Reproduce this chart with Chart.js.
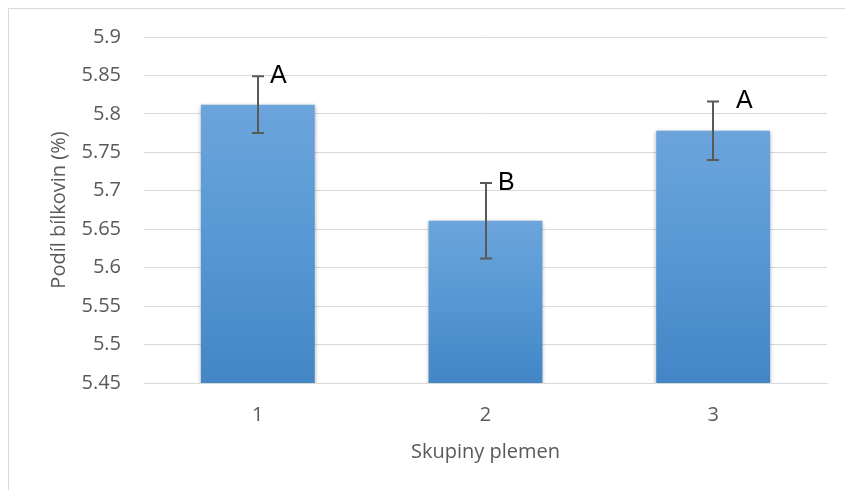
<!DOCTYPE html>
<html lang="cs">
<head>
    <meta charset="UTF-8">
    <title>Podíl bílkovin</title>
    <script src="https://cdn.jsdelivr.net/npm/chart.js"></script>
    <style>
        body {
            margin: 0;
            background: #ffffff;
        }

        .chart-container {
            width: 845px;
            height: 490px;
            position: relative;
        }
    </style>
</head>
<body>
    <div class="chart-container">
        <canvas id="proteinChart" width="845" height="490"></canvas>
    </div>

    <script>
        // data
        const groups = ['1', '2', '3'];
        const proteinMeans = [5.812, 5.661, 5.778];
        const proteinErrors = [0.037, 0.049, 0.038];
        const groupLetters = ['A', 'B', 'A'];
        const yTicks = [5.45, 5.5, 5.55, 5.6, 5.65, 5.7, 5.75, 5.8, 5.85, 5.9];
        const yTickLabels = ['5.45', '5.5', '5.55', '5.6', '5.65', '5.7', '5.75', '5.8', '5.85', '5.9'];

        const textGray = '#595959';
        const gridGray = '#d9d9d9';
        const fontFamily = "'Open Sans', sans-serif";

        // light frame like the exported Excel chart
        const framePlugin = {
            id: 'frame',
            beforeDraw(chart) {
                const ctx = chart.ctx;
                ctx.save();
                ctx.fillStyle = '#ffffff';
                ctx.fillRect(0, 0, chart.width, chart.height);
                ctx.strokeStyle = gridGray;
                ctx.lineWidth = 1;
                ctx.beginPath();
                ctx.moveTo(8.5, chart.height);
                ctx.lineTo(8.5, 8.5);
                ctx.lineTo(chart.width, 8.5);
                ctx.stroke();
                ctx.restore();
            }
        };

        const shadowPlugin = {
            id: 'barShadow',
            beforeDatasetDraw(chart) {
                const ctx = chart.ctx;
                ctx.save();
                ctx.shadowColor = 'rgba(0, 0, 0, 0.35)';
                ctx.shadowBlur = 4;
                ctx.shadowOffsetX = 0;
                ctx.shadowOffsetY = 1;
            },
            afterDatasetDraw(chart) {
                chart.ctx.restore();
            }
        };

        // error bars and group letters
        const errorBarPlugin = {
            id: 'errorBars',
            afterDatasetsDraw(chart, args, opts) {
                const ctx = chart.ctx;
                const x = chart.scales.x;
                const y = chart.scales.y;
                ctx.save();
                ctx.strokeStyle = textGray;
                ctx.lineWidth = 2;
                proteinMeans.forEach((v, i) => {
                    const cx = Math.round(x.getPixelForValue(i));
                    const top = y.getPixelForValue(v + proteinErrors[i]);
                    const bottom = y.getPixelForValue(v - proteinErrors[i]);
                    ctx.beginPath();
                    ctx.moveTo(cx, top);
                    ctx.lineTo(cx, bottom);
                    ctx.moveTo(cx - 6, top);
                    ctx.lineTo(cx + 6, top);
                    ctx.moveTo(cx - 6, bottom);
                    ctx.lineTo(cx + 6, bottom);
                    ctx.stroke();

                    ctx.fillStyle = '#000000';
                    ctx.font = "25px 'Liberation Sans', sans-serif";
                    ctx.textAlign = 'left';
                    ctx.textBaseline = 'middle';
                    ctx.fillText(groupLetters[i], cx + opts.letterOffsets[i], top);
                });
                ctx.restore();
            }
        };

        function barGradient(context) {
            const chart = context.chart;
            if (!chart.chartArea) {
                return '#5b9bd5';
            }
            const y = chart.scales.y;
            const top = y.getPixelForValue(proteinMeans[context.dataIndex]);
            const bottom = chart.chartArea.bottom;
            const g = chart.ctx.createLinearGradient(0, top, 0, bottom);
            g.addColorStop(0, '#6ca4dc');
            g.addColorStop(0.5, '#5698d4');
            g.addColorStop(1, '#4386c6');
            return g;
        }

        const chart = new Chart(document.getElementById('proteinChart'), {
            type: 'bar',
            data: {
                labels: groups,
                datasets: [{
                    data: proteinMeans,
                    backgroundColor: barGradient,
                    borderWidth: 0,
                    barPercentage: 0.5,
                    categoryPercentage: 1.0
                }]
            },
            plugins: [framePlugin, shadowPlugin, errorBarPlugin],
            options: {
                responsive: false,
                animation: false,
                layout: {
                    padding: { left: 0, right: 18, top: 37, bottom: 0 }
                },
                plugins: {
                    legend: { display: false },
                    tooltip: { enabled: false },
                    errorBars: { letterOffsets: [12, 12, 23] }
                },
                scales: {
                    x: {
                        grid: { display: false, drawTicks: false },
                        border: { color: gridGray, width: 1 },
                        ticks: {
                            color: textGray,
                            padding: 20,
                            font: { family: fontFamily, size: 20 }
                        },
                        title: {
                            display: true,
                            text: 'Skupiny plemen',
                            color: textGray,
                            padding: { top: 0, bottom: 26 },
                            font: { family: fontFamily, size: 20 }
                        },
                        afterFit(scale) {
                            scale.height = 107;
                        }
                    },
                    y: {
                        min: 5.45,
                        max: 5.9,
                        grid: { color: gridGray, lineWidth: 1, drawTicks: false },
                        border: { display: false },
                        afterBuildTicks(scale) {
                            scale.ticks = yTicks.map(v => ({ value: v }));
                        },
                        ticks: {
                            color: textGray,
                            padding: 23,
                            font: { family: fontFamily, size: 20 },
                            callback: function(value, index) {
                                return yTickLabels[index];
                            }
                        },
                        title: {
                            display: true,
                            text: 'Podíl bílkovin (%)',
                            color: textGray,
                            padding: { top: 47, bottom: 0 },
                            font: { family: fontFamily, size: 20 }
                        },
                        afterFit(scale) {
                            scale.width = 144;
                        }
                    }
                }
            }
        });
    </script>
</body>
</html>
